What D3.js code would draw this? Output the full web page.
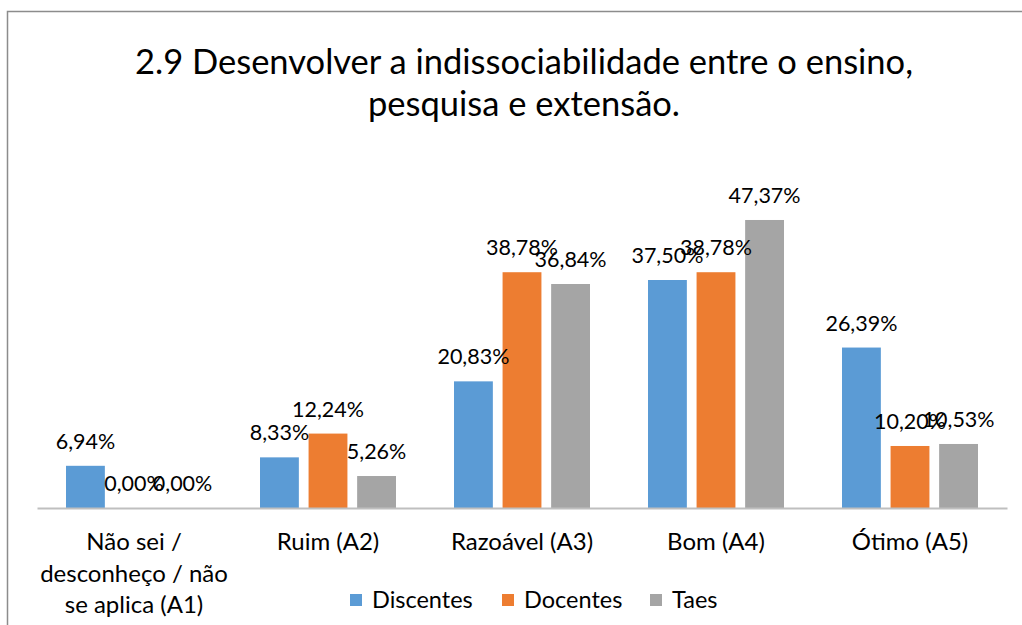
<!DOCTYPE html>
<html>
<head>
<meta charset="utf-8">
<script src="https://cdn.jsdelivr.net/npm/d3@7"></script>
<style>
  html, body { margin: 0; padding: 0; background: #fff; }
  svg { display: block; font-family: Lato, "Open Sans", sans-serif; }
</style>
</head>
<body>
<svg id="chart" width="1022" height="625"></svg>
<script>
const titleLines = ["2.9 Desenvolver a indissociabilidade entre o ensino,", "pesquisa e extensão."];
const categories = [
  ["Não sei /", "desconheço / não", "se aplica (A1)"],
  ["Ruim (A2)"],
  ["Razoável (A3)"],
  ["Bom (A4)"],
  ["Ótimo (A5)"]
];
const seriesNames = ["Discentes", "Docentes", "Taes"];
const discentes = [6.94, 8.33, 20.83, 37.50, 26.39];
const docentes = [0.00, 12.24, 38.78, 38.78, 10.20];
const taes = [0.00, 5.26, 36.84, 47.37, 10.53];
const colors = ["#5B9BD5", "#ED7D31", "#A5A5A5"];
const seriesValues = [discentes, docentes, taes];

const svg = d3.select("#chart");
const W = 1022, H = 625;

// outer frame
svg.append("rect").attr("x", 7.5).attr("y", 11.5).attr("width", W + 10).attr("height", H + 10)
  .attr("fill", "none").attr("stroke", "#8c8c8c").attr("stroke-width", 1.5);

// title
svg.append("g").selectAll("text").data(titleLines).join("text")
  .attr("x", 524).attr("y", (d, i) => 74 + i * 42)
  .attr("text-anchor", "middle").attr("font-size", 34.5).attr("fill", "#000")
  .text(d => d);

const left = 37, right = 1007, baseline = 508;
const x0 = d3.scaleBand().domain(d3.range(categories.length)).range([left, right]).paddingInner(0).paddingOuter(0);
const x1 = d3.scaleBand().domain(d3.range(seriesNames.length)).range([29, x0.bandwidth() - 29]).paddingInner(0.2).paddingOuter(0);
const y = d3.scaleLinear().domain([0, 50]).range([baseline, baseline - 304]);

const groups = svg.append("g").selectAll("g").data(categories).join("g")
  .attr("transform", (d, i) => `translate(${x0(i)},0)`);

groups.each(function(cat, ci) {
  const g = d3.select(this);
  seriesValues.forEach((vals, si) => {
    const v = vals[ci];
    if (v > 0) {
      g.append("rect")
        .attr("x", x1(si)).attr("y", y(v))
        .attr("width", x1.bandwidth()).attr("height", baseline - y(v))
        .attr("fill", colors[si]);
    }
  });
});

// axis line
const xAxis = d3.axisBottom(x0).tickSize(0).tickFormat("");
const axisG = svg.append("g").attr("transform", `translate(0,${baseline})`).call(xAxis);
axisG.select(".domain").attr("stroke", "#bfbfbf").attr("stroke-width", 2);

// data labels
groups.each(function(cat, ci) {
  const g = d3.select(this);
  seriesValues.forEach((vals, si) => {
    const v = vals[ci];
    g.append("text")
      .attr("x", x1(si) + x1.bandwidth() / 2)
      .attr("y", y(v) - 17)
      .attr("text-anchor", "middle").attr("font-size", 21.5).attr("fill", "#000")
      .text(v.toFixed(2).replace(".", ",") + "%");
  });
});

// category labels
groups.each(function(cat, ci) {
  d3.select(this).selectAll("text.cat").data(cat).join("text")
    .attr("class", "cat")
    .attr("x", x0.bandwidth() / 2).attr("y", (d, i) => 550 + i * 31.5)
    .attr("text-anchor", "middle").attr("font-size", 24).attr("fill", "#000")
    .text(d => d);
});

// legend
const legendX = [350, 502, 650];
const legend = svg.append("g").selectAll("g").data(seriesNames).join("g")
  .attr("transform", (d, i) => `translate(${legendX[i]},594)`);
legend.append("rect").attr("width", 12).attr("height", 12).attr("fill", (d, i) => colors[i]);
legend.append("text").attr("x", 22).attr("y", 14).attr("font-size", 23.5).attr("fill", "#000").text(d => d);
</script>
</body>
</html>
